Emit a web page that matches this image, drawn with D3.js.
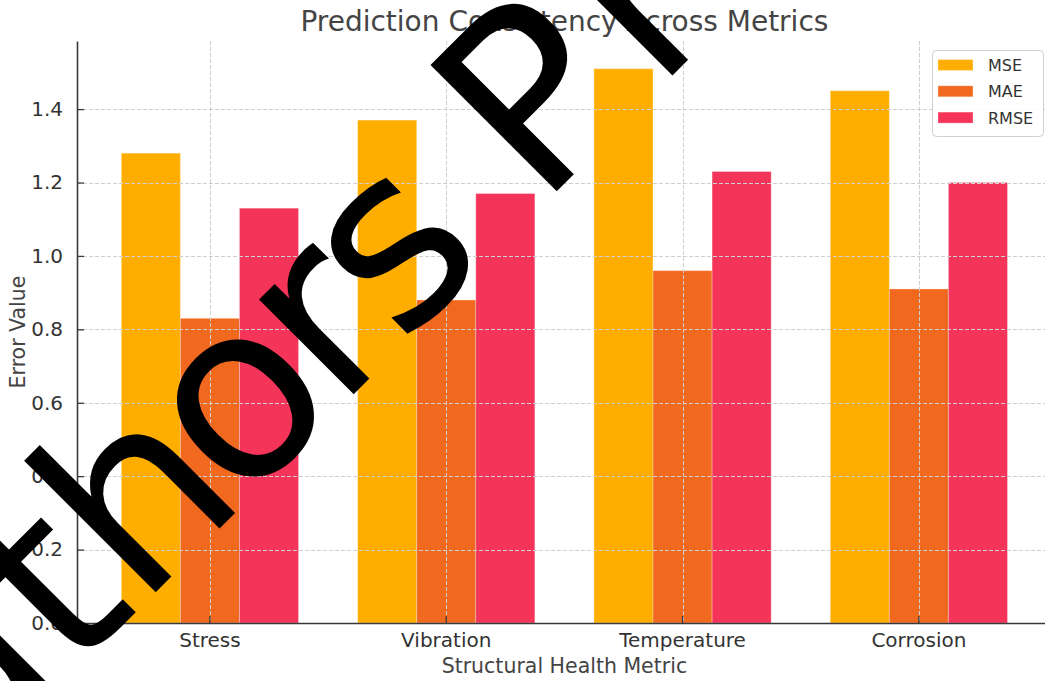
<!DOCTYPE html>
<html>
<head>
<meta charset="utf-8">
<script src="https://cdn.jsdelivr.net/npm/d3@7"></script>
<style>
  html, body { margin: 0; padding: 0; background: #fff; }
  svg { display: block; font-family: "DejaVu Sans", sans-serif; }
</style>
</head>
<body>
<svg id="chart" width="1045" height="681"></svg>
<script>
// Error values per structural health metric
const categories = ["Stress", "Vibration", "Temperature", "Corrosion"];
const seriesNames = ["MSE", "MAE", "RMSE"];
const mseValues  = [1.28, 1.37, 1.51, 1.45];
const maeValues  = [0.83, 0.88, 0.96, 0.91];
const rmseValues = [1.13, 1.17, 1.23, 1.20];
const seriesColors = ["#ffae00", "#f1691f", "#f43458"];
const yTickValues = [0.0, 0.2, 0.4, 0.6, 0.8, 1.0, 1.2, 1.4];

const titleText = "Prediction Consistency Across Metrics";
const xLabelText = "Structural Health Metric";
const yLabelText = "Error Value";
const stampText = "Authors Preprint";
// per-letter kerning of the stamp
const stampKerning = [0, 0, 0, 0, -14, -11, -11, 0, -10, 22, 0, 0, 0, 0, 0, 0];

const seriesValues = [mseValues, maeValues, rmseValues];

const plot = { left: 77, right: 1051.8, top: 41, bottom: 623 };

const svg = d3.select("#chart");

// Scales
const x0 = d3.scaleBand()
  .domain(categories)
  .range([plot.left, plot.right])
  .paddingInner(0)
  .paddingOuter(0.0625);

const x1 = d3.scaleBand()
  .domain(seriesNames)
  .range([0, x0.bandwidth()])
  .paddingInner(0)
  .paddingOuter(0.5);

const yMax = d3.max(seriesValues.flat()) * 1.05;
const y = d3.scaleLinear().domain([0, yMax]).range([plot.bottom, plot.top]);

const color = d3.scaleOrdinal().domain(seriesNames).range(seriesColors);

// Bars
const rows = categories.map((c, i) => ({
  category: c,
  values: seriesNames.map((s, j) => ({ series: s, value: seriesValues[j][i] }))
}));

const groups = svg.append("g").attr("class", "bars")
  .selectAll("g")
  .data(rows)
  .join("g")
  .attr("transform", d => `translate(${x0(d.category)},0)`);

groups.selectAll("rect")
  .data(d => d.values)
  .join("rect")
  .attr("x", d => x1(d.series))
  .attr("y", d => y(d.value))
  .attr("width", x1.bandwidth())
  .attr("height", d => y(0) - y(d.value))
  .attr("fill", d => color(d.series))
  .attr("stroke", "#ffffff")
  .attr("stroke-opacity", 0.3)
  .attr("stroke-width", 1);

// Grid on top of bars
const grid = svg.append("g").attr("class", "grid")
  .attr("stroke", "#cfcfcf")
  .attr("stroke-width", 1)
  .attr("stroke-dasharray", "4,2");

grid.selectAll("line.h")
  .data(yTickValues)
  .join("line")
  .attr("class", "h")
  .attr("x1", plot.left).attr("x2", plot.right)
  .attr("y1", d => Math.round(y(d)) + 0.5)
  .attr("y2", d => Math.round(y(d)) + 0.5);

grid.selectAll("line.v")
  .data(categories)
  .join("line")
  .attr("class", "v")
  .attr("x1", d => Math.round(x0(d) + x0.bandwidth() / 2) + 0.5)
  .attr("x2", d => Math.round(x0(d) + x0.bandwidth() / 2) + 0.5)
  .attr("y1", plot.top).attr("y2", plot.bottom);

// Axes (ticks pointing inward)
const yAxis = d3.axisLeft(y)
  .tickValues(yTickValues)
  .tickFormat(d3.format(".1f"))
  .tickSizeInner(-7)
  .tickSizeOuter(0)
  .tickPadding(14);

const xAxis = d3.axisBottom(x0)
  .tickSizeInner(-7)
  .tickSizeOuter(0)
  .tickPadding(10);

const gy = svg.append("g")
  .attr("transform", `translate(${plot.left},0)`)
  .call(yAxis);

const gx = svg.append("g")
  .attr("transform", `translate(0,${plot.bottom})`)
  .call(xAxis);

[gx, gy].forEach(g => {
  g.select(".domain").attr("stroke", "#3a3a3a").attr("stroke-width", 1.6);
  g.selectAll(".tick line").attr("stroke", "#3a3a3a").attr("stroke-width", 1.3);
  g.selectAll(".tick text")
    .attr("fill", "#333")
    .style("font-size", "20px")
    .style("font-family", "DejaVu Sans");
});

// Title and axis labels
svg.append("text")
  .attr("x", (plot.left + plot.right) / 2)
  .attr("y", 31)
  .attr("text-anchor", "middle")
  .attr("fill", "#444")
  .style("font-size", "28px")
  .text(titleText);

svg.append("text")
  .attr("x", (plot.left + plot.right) / 2)
  .attr("y", 673)
  .attr("text-anchor", "middle")
  .attr("fill", "#444")
  .style("font-size", "20.5px")
  .text(xLabelText);

svg.append("text")
  .attr("transform", `translate(25,${(plot.top + plot.bottom) / 2}) rotate(-90)`)
  .attr("text-anchor", "middle")
  .attr("fill", "#444")
  .style("font-size", "20.5px")
  .text(yLabelText);

// Legend
const legend = svg.append("g").attr("transform", "translate(932,50)");
legend.append("rect")
  .attr("x", 0.5).attr("y", 0.5)
  .attr("width", 111).attr("height", 86)
  .attr("rx", 4)
  .attr("fill", "#fff").attr("fill-opacity", 0.85)
  .attr("stroke", "#d0d0d0").attr("stroke-width", 1);

const items = legend.selectAll("g.item")
  .data(seriesNames)
  .join("g")
  .attr("class", "item")
  .attr("transform", (d, i) => `translate(0,${15 + i * 26.3})`);

items.append("rect")
  .attr("x", 6).attr("y", -5.5)
  .attr("width", 35).attr("height", 11)
  .attr("fill", d => color(d))
  .attr("stroke", "#ffffff").attr("stroke-opacity", 0.3);

items.append("text")
  .attr("x", 56).attr("y", 6)
  .attr("fill", "#333")
  .style("font-size", "16px")
  .text(d => d);

// Diagonal stamp across the figure, baseline along x + y = 748
const stampSize = 245;
const stamp = svg.append("g").attr("transform", "translate(374,374) rotate(-45)");
stamp.append("text")
  .attr("x", -750)
  .attr("dx", stampKerning.join(" "))
  .attr("fill", "#000")
  .style("font-size", stampSize + "px")
  .style("white-space", "pre")
  .text(stampText);
</script>
</body>
</html>
